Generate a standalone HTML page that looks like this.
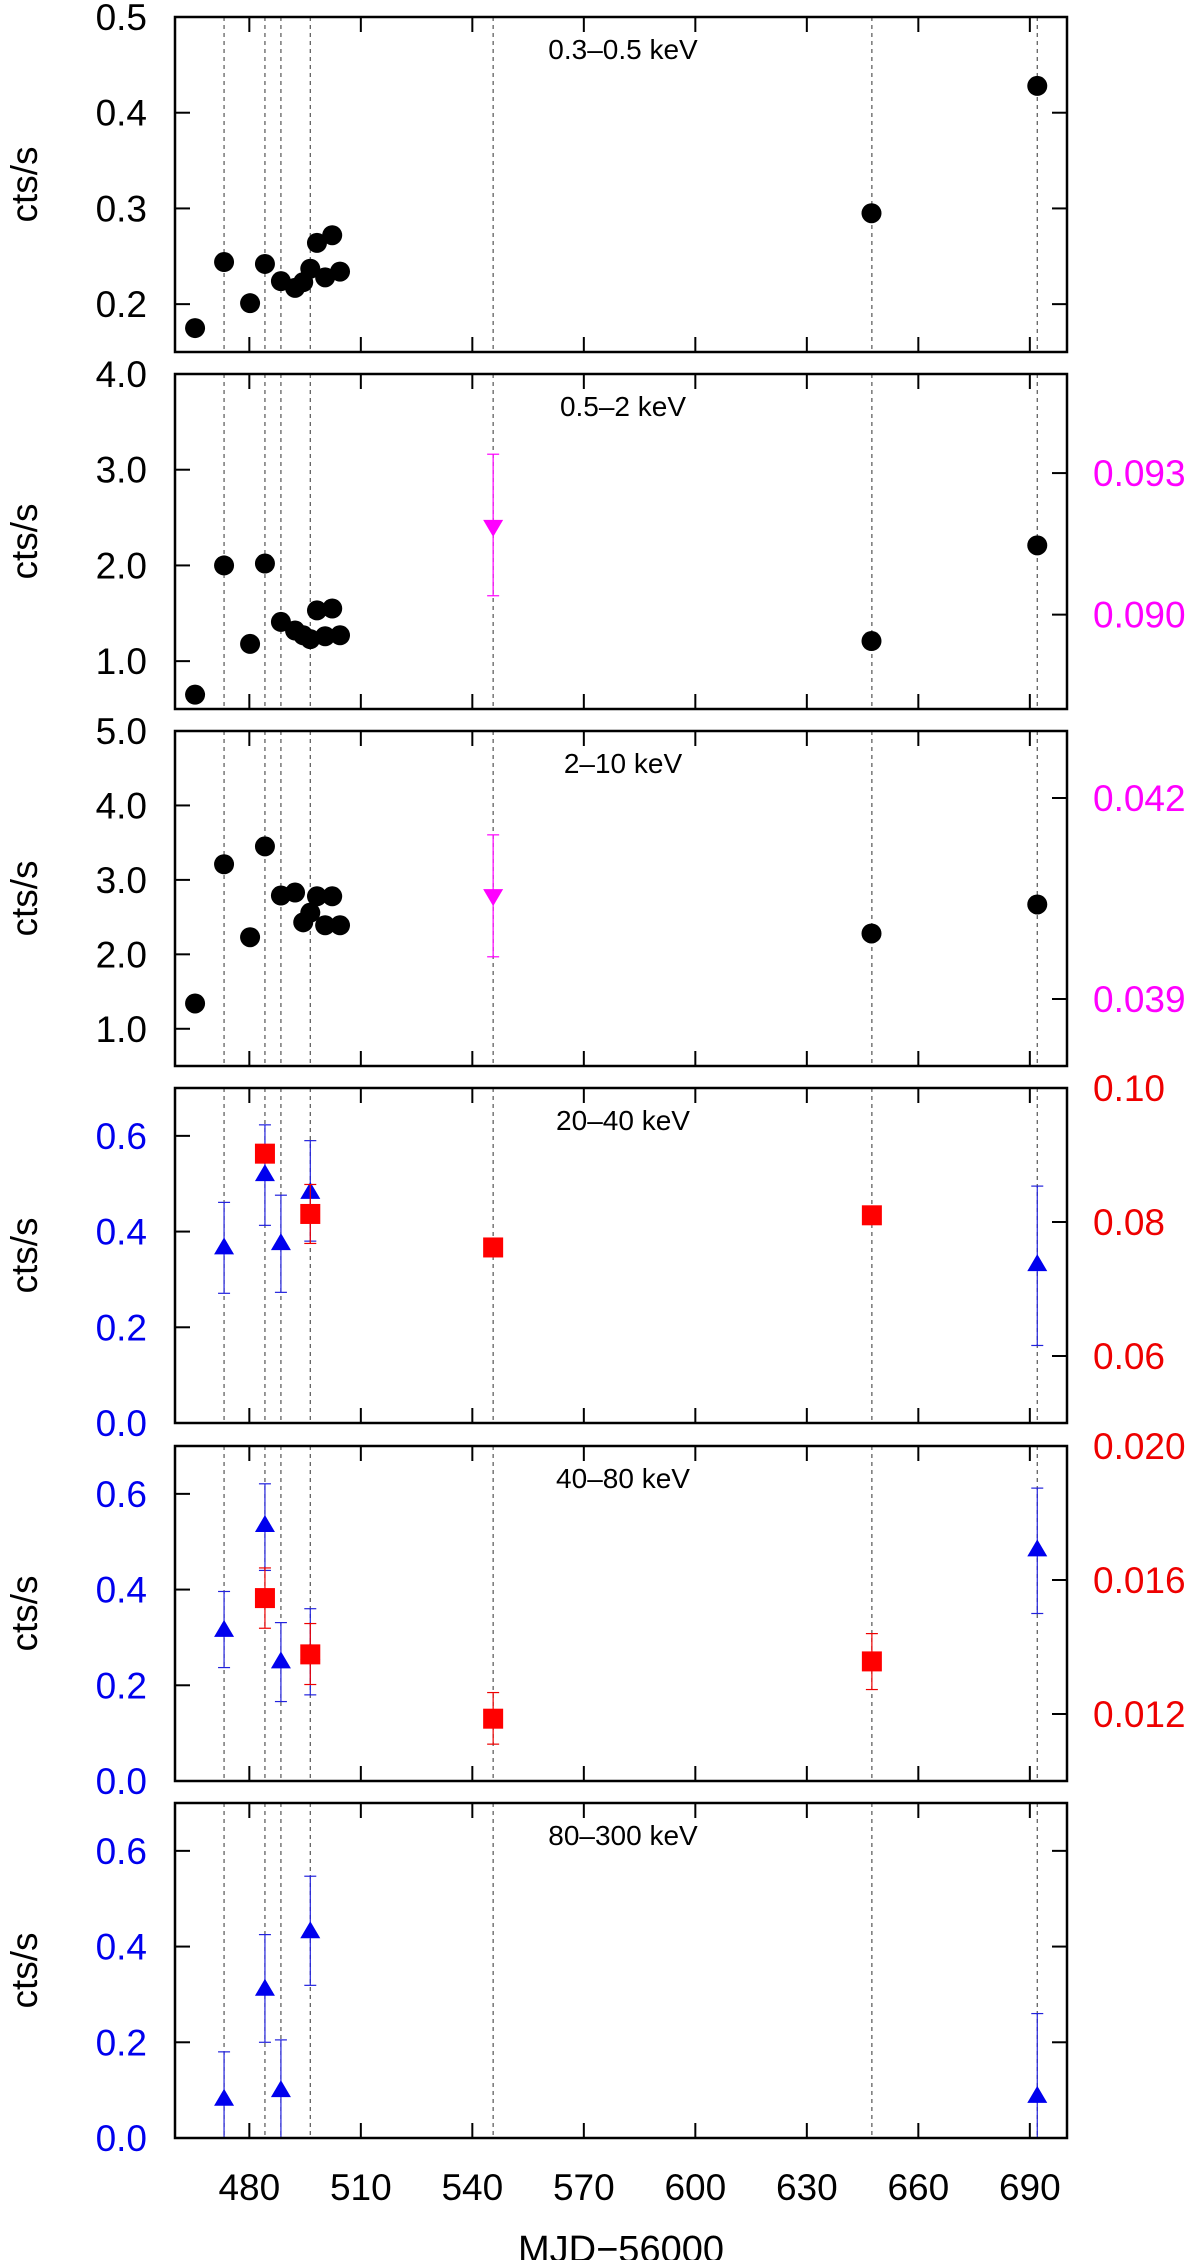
<!DOCTYPE html>
<html><head><meta charset="utf-8"><style>
html,body{margin:0;padding:0;background:#fff;}
svg{display:block;font-family:"Liberation Sans",Arial,sans-serif;}
</style></head><body>
<svg id="chart" width="1200" height="2260" viewBox="0 0 1200 2260" xmlns="http://www.w3.org/2000/svg"></svg>
<script>
// ---- data ----
const xTicks = [480, 510, 540, 570, 600, 630, 660, 690];
const refLines = [473.2, 484.2, 488.5, 496.4, 545.6, 647.5, 692];
const bandLabels = ["0.3\u20130.5 keV", "0.5\u20132 keV", "2\u201310 keV", "20\u201340 keV", "40\u201380 keV", "80\u2013300 keV"];

const softMJD = [465.4, 473.2, 480.2, 484.2, 488.5, 492.3, 494.5, 496.4, 498.2, 500.4, 502.3, 504.4, 647.4, 692];
const band1Rate = [0.175, 0.244, 0.201, 0.242, 0.224, 0.217, 0.223, 0.237, 0.264, 0.228, 0.272, 0.234, 0.295, 0.428];
const band2Rate = [0.65, 2.0, 1.18, 2.02, 1.41, 1.32, 1.27, 1.23, 1.53, 1.26, 1.55, 1.27, 1.21, 2.21];
const band3Rate = [1.34, 3.21, 2.23, 3.45, 2.79, 2.83, 2.43, 2.56, 2.78, 2.39, 2.78, 2.39, 2.28, 2.67];

const magMJD = [545.6];
const mag2Rate = [0.09184]; const mag2Hi = [0.0934]; const mag2Lo = [0.0904];
const mag3Rate = [0.04052]; const mag3Hi = [0.04145]; const mag3Lo = [0.03963];

const blueMJD = [473.2, 484.2, 488.5, 496.4, 692];
const blue4Rate = [0.369, 0.522, 0.378, 0.485, 0.334];
const blue4Hi = [0.461, 0.623, 0.476, 0.59, 0.495];
const blue4Lo = [0.271, 0.413, 0.273, 0.38, 0.162];
const blue5Rate = [0.318, 0.537, 0.252, 0.27, 0.486];
const blue5Hi = [0.396, 0.621, 0.331, 0.36, 0.612];
const blue5Lo = [0.237, 0.44, 0.166, 0.18, 0.35];
const blue6Rate = [0.084, 0.314, 0.102, 0.434, 0.09];
const blue6Hi = [0.18, 0.425, 0.205, 0.547, 0.26];
const blue6Lo = [-0.1, 0.20, -0.1, 0.319, -0.1];

const redMJD = [484.2, 496.4, 545.6, 647.5];
const red4Rate = [0.0902, 0.0812, 0.0762, 0.0810];
const red4Hi = [0.0902, 0.0856, 0.0762, 0.0810];
const red4Lo = [0.0902, 0.0768, 0.0762, 0.0810];
const red5Rate = [0.01546, 0.01378, 0.01186, 0.01357];
const red5Hi = [0.01636, 0.0147, 0.01264, 0.0144];
const red5Lo = [0.01456, 0.01288, 0.0111, 0.01273];

const leftTicks = [[0.2,0.3,0.4,0.5],[1.0,2.0,3.0,4.0],[1.0,2.0,3.0,4.0,5.0],[0,0.2,0.4,0.6],[0,0.2,0.4,0.6],[0,0.2,0.4,0.6]];
const leftDomains = [[0.15,0.5],[0.5,4.0],[0.5,5.0],[0,0.7],[0,0.7],[0,0.7]];
const rightTicks = [null,[0.090,0.093],[0.039,0.042],[0.06,0.08,0.10],[0.012,0.016,0.020],null];
const rightDomains = [null,[0.0880,0.0951],[0.038,0.043],[0.05,0.10],[0.010,0.020],null];

// ---- layout ----
const NS = "http://www.w3.org/2000/svg";
const svg = document.getElementById('chart');
const X0 = 175, X1 = 1067, XMIN = 460, XMAX = 700;
const PH = 335, TOPS = [17, 374, 731, 1088, 1446, 1803];
function xs(v){ return X0 + (v - XMIN) / (XMAX - XMIN) * (X1 - X0); }
function ys(v, dom, top){ return top + PH - (v - dom[0]) / (dom[1] - dom[0]) * PH; }
function el(tag, attrs, parent){
  const e = document.createElementNS(NS, tag);
  for (const k in attrs) e.setAttribute(k, attrs[k]);
  (parent || svg).appendChild(e); return e;
}
function fmt(v, d){ return v.toFixed(d); }
const defs = el('defs', {});

function triUp(g, x, y, c){ el('polygon', {points:`${x-10},${y+8} ${x+10},${y+8} ${x},${y-9}`, fill:c}, g); }
function triDown(g, x, y, c){ el('polygon', {points:`${x-10},${y-8} ${x+10},${y-8} ${x},${y+9}`, fill:c}, g); }
function square(g, x, y, c){ el('rect', {x:x-10, y:y-10, width:20, height:20, fill:c}, g); }
function errbar(g, x, yh, yl, c){
  el('line', {x1:x, y1:yh, x2:x, y2:yl, stroke:c, 'stroke-width':1.2}, g);
  el('line', {x1:x-6, y1:yh, x2:x+6, y2:yh, stroke:c, 'stroke-width':1.2}, g);
  el('line', {x1:x-6, y1:yl, x2:x+6, y2:yl, stroke:c, 'stroke-width':1.2}, g);
}

for (let p = 0; p < 6; p++){
  const top = TOPS[p], bot = top + PH;
  const g = el('g', {});
  
  
  const cp = el('clipPath', {id:'clip'+p}, defs);
  el('rect', {x:X0, y:top, width:X1-X0, height:PH}, cp);
  const inner = el('g', {'clip-path':`url(#clip${p})`}, g);
  refLines.forEach(v => {
    const l = el('line', {x1:xs(v), y1:top, x2:xs(v), y2:bot, stroke:'#555', 'stroke-width':1.2, 'stroke-dasharray':'4,4'}, inner);
    
    
  });
  const fr = el('rect', {x:X0, y:top, width:X1-X0, height:PH, fill:'none', stroke:'#000', 'stroke-width':2.5}, g);
  
  
  xTicks.forEach(v => {
    el('line', {x1:xs(v), y1:top, x2:xs(v), y2:top+15, stroke:'#000', 'stroke-width':2}, g);
    el('line', {x1:xs(v), y1:bot, x2:xs(v), y2:bot-15, stroke:'#000', 'stroke-width':2}, g);
  });
  const dom = leftDomains[p];
  const lcol = p >= 3 ? '#0000ee' : '#000';
  leftTicks[p].forEach(v => {
    const y = ys(v, dom, top);
    el('line', {x1:X0, y1:y, x2:X0+15, y2:y, stroke:'#000', 'stroke-width':2}, g);
    if (!rightTicks[p]) el('line', {x1:X1, y1:y, x2:X1-15, y2:y, stroke:'#000', 'stroke-width':2}, g);
    const t = el('text', {x:147, y:y+13, 'text-anchor':'end', 'font-size':37, fill:lcol}, g);
    t.textContent = fmt(v, 1);
    
    
  });
  if (rightTicks[p]){
    const rcol = p < 3 ? '#ff00ff' : '#ee0000';
    const dec = p < 3 ? 3 : (p === 3 ? 2 : 3);
    rightTicks[p].forEach(v => {
      const y = ys(v, rightDomains[p], top);
      el('line', {x1:X1, y1:y, x2:X1-15, y2:y, stroke:'#000', 'stroke-width':2}, g);
      const t = el('text', {x:1093, y:y+13, 'font-size':37, fill:rcol}, g);
      t.textContent = fmt(v, dec);
      
      
    });
  }
  const yt = el('text', {x:0, y:0, 'font-size':37, 'text-anchor':'middle', transform:`translate(37,${top+PH/2}) rotate(-90)`}, g);
  yt.textContent = 'cts/s';
  
  
  const bl = el('text', {x:623, y:top+42, 'font-size':28, 'text-anchor':'middle'}, g);
  bl.textContent = bandLabels[p];
  
  

  if (p <= 2){
    const rates = [band1Rate, band2Rate, band3Rate][p];
    softMJD.forEach((m, i) => {
      const c = el('circle', {cx:xs(m), cy:ys(rates[i], dom, top), r:10, fill:'#000'}, inner);
      
      
    });
  }
  if (p === 1 || p === 2){
    const r = p === 1 ? mag2Rate : mag3Rate, hi = p === 1 ? mag2Hi : mag3Hi, lo = p === 1 ? mag2Lo : mag3Lo;
    const rd = rightDomains[p];
    magMJD.forEach((m, i) => {
      const mg = el('g', {}, inner);
      
      
      errbar(mg, xs(m), ys(hi[i], rd, top), ys(lo[i], rd, top), '#ff00ff');
      triDown(mg, xs(m), ys(r[i], rd, top), '#ff00ff');
    });
  }
  if (p >= 3){
    const r = [blue4Rate, blue5Rate, blue6Rate][p-3], hi = [blue4Hi, blue5Hi, blue6Hi][p-3], lo = [blue4Lo, blue5Lo, blue6Lo][p-3];
    blueMJD.forEach((m, i) => {
      const bg = el('g', {}, inner);
      
      
      errbar(bg, xs(m), ys(hi[i], dom, top), ys(lo[i], dom, top), '#2222dd');
      triUp(bg, xs(m), ys(r[i], dom, top), '#0000ee');
    });
    if (p !== 5){
      const rr = p === 3 ? red4Rate : red5Rate, rh = p === 3 ? red4Hi : red5Hi, rl = p === 3 ? red4Lo : red5Lo;
      const rd = rightDomains[p];
      redMJD.forEach((m, i) => {
        const rg = el('g', {}, inner);
        
        
        errbar(rg, xs(m), ys(rh[i], rd, top), ys(rl[i], rd, top), '#ee0000');
        square(rg, xs(m), ys(rr[i], rd, top), '#ff0000');
      });
    }
  }
}
xTicks.forEach(v => {
  const t = el('text', {x:xs(v), y:2200, 'font-size':37, 'text-anchor':'middle'});
  t.textContent = String(v);
  
  
});
const xt = el('text', {x:621, y:2262, 'font-size':38, 'text-anchor':'middle'});
xt.textContent = 'MJD\u221256000';


</script>
</body></html>
